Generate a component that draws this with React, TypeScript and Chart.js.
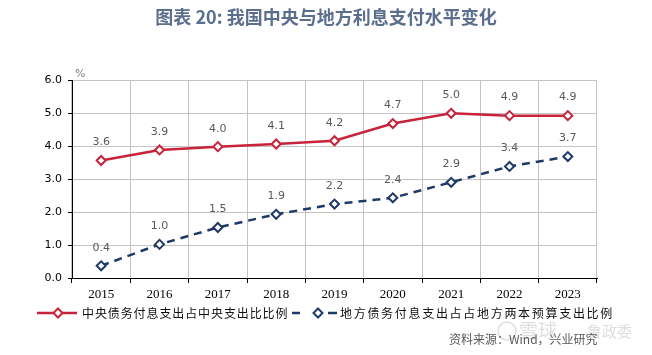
import { useEffect, useRef } from 'react';
import { Chart, registerables } from 'chart.js';

Chart.register(...registerables);

const years = ['2015', '2016', '2017', '2018', '2019', '2020', '2021', '2022', '2023'];
const centralRatio = [3.56, 3.88, 3.98, 4.06, 4.16, 4.68, 4.99, 4.92, 4.92];
const localRatio = [0.37, 1.02, 1.53, 1.93, 2.24, 2.43, 2.9, 3.38, 3.68];
const centralName = '中央债务付息支出占中央支出比比例';
const localName = '地方债务付息支出占占地方两本预算支出比例';
const titleText = '图表 20: 我国中央与地方利息支付水平变化';
const sourceText = '资料来源：Wind，兴业研究';

const RED = '#c8233a';
const NAVY = '#1f3a66';

const decorPlugin = {
  id: 'decor',
  afterDatasetsDraw(chart: any) {
    const ctx = chart.ctx;
    ctx.save();
    ctx.font = '11px "DejaVu Sans"';
    ctx.fillStyle = '#595959';
    ctx.textAlign = 'center';
    ctx.textBaseline = 'middle';
    chart.data.datasets.forEach((ds: any, i: number) => {
      const meta = chart.getDatasetMeta(i);
      meta.data.forEach((pt: any, j: number) => {
        ctx.fillText((ds.data[j] as number).toFixed(1), pt.x, pt.y - 18);
      });
    });
    ctx.restore();
  },
  afterDraw(chart: any) {
    const ctx = chart.ctx;
    const area = chart.chartArea;
    ctx.save();
    // title
    ctx.font = 'bold 18px "Noto Sans CJK SC"';
    ctx.fillStyle = '#5b6e8e';
    ctx.textAlign = 'center';
    ctx.textBaseline = 'middle';
    ctx.fillText(titleText, 326, 17);
    // % unit
    ctx.font = '11px "DejaVu Sans"';
    ctx.fillStyle = '#808080';
    ctx.textAlign = 'left';
    ctx.fillText('%', area.left + 3, area.top - 6);
    // legend
    const ly = 313;
    const drawDiamond = (x: number, color: string) => {
      ctx.beginPath();
      ctx.moveTo(x, ly - 4.5);
      ctx.lineTo(x + 4.5, ly);
      ctx.lineTo(x, ly + 4.5);
      ctx.lineTo(x - 4.5, ly);
      ctx.closePath();
      ctx.fillStyle = '#fff';
      ctx.fill();
      ctx.lineWidth = 2;
      ctx.strokeStyle = color;
      ctx.setLineDash([]);
      ctx.stroke();
    };
    ctx.lineWidth = 2.5;
    ctx.strokeStyle = RED;
    ctx.beginPath();
    ctx.moveTo(37, ly);
    ctx.lineTo(77, ly);
    ctx.stroke();
    drawDiamond(58, RED);
    ctx.strokeStyle = NAVY;
    ctx.lineWidth = 2.5;
    ctx.beginPath();
    ctx.moveTo(292, ly);
    ctx.lineTo(300, ly);
    ctx.moveTo(328, ly);
    ctx.lineTo(337, ly);
    ctx.stroke();
    drawDiamond(318, NAVY);
    ctx.font = '12px "Noto Sans CJK SC"';
    ctx.fillStyle = '#111';
    ctx.textBaseline = 'middle';
    (ctx as any).letterSpacing = '0.9px';
    ctx.fillText(centralName, 82, ly);
    (ctx as any).letterSpacing = '1.7px';
    ctx.fillText(localName, 340, ly);
    (ctx as any).letterSpacing = '0px';
    // watermark
    ctx.fillStyle = 'rgba(160,160,160,0.35)';
    ctx.strokeStyle = 'rgba(160,160,160,0.35)';
    ctx.lineWidth = 1.5;
    ctx.beginPath();
    ctx.arc(507, 331, 9, 0, Math.PI * 2);
    ctx.stroke();
    ctx.font = '19px "Noto Sans CJK SC"';
    ctx.fillText('雪球', 519, 331);
    ctx.font = '15px "Noto Sans CJK SC"';
    ctx.fillText('鲁政委', 587, 331);
    // source
    ctx.font = '12px "Noto Sans CJK SC"';
    ctx.fillStyle = '#595959';
    ctx.fillText(sourceText, 449, 339);
    ctx.restore();
  },
};

export default function App() {
  const ref = useRef<HTMLCanvasElement>(null);
  useEffect(() => {
    if (!ref.current) return;
    const chart = new Chart(ref.current, {
      type: 'line',
      data: {
        labels: years,
        datasets: [
          {
            label: centralName,
            data: centralRatio,
            borderColor: RED,
            borderWidth: 2.5,
            pointStyle: 'rectRot',
            pointRadius: 4.5,
            pointBorderWidth: 2,
            pointBackgroundColor: '#fff',
            pointBorderColor: RED,
            tension: 0,
          },
          {
            label: localName,
            data: localRatio,
            borderColor: NAVY,
            borderWidth: 2.5,
            borderDash: [8, 6],
            pointStyle: 'rectRot',
            pointRadius: 4.5,
            pointBorderWidth: 2,
            pointBackgroundColor: '#fff',
            pointBorderColor: NAVY,
            tension: 0,
          },
        ],
      },
      options: {
        animation: false,
        responsive: false,
        maintainAspectRatio: false,
        layout: { padding: { left: 0, right: 55, top: 80, bottom: 0 } },
        plugins: {
          legend: { display: false },
          title: { display: false },
          tooltip: { enabled: false },
        },
        scales: {
          x: {
            type: 'category',
            offset: true,
            grid: { offset: true, color: '#c4c4c4', tickColor: '#000', tickLength: 5 },
            border: { color: '#000', width: 1 },
            ticks: { font: { family: 'Liberation Serif', size: 13 }, color: '#000', padding: 4, maxRotation: 0 },
            afterFit: (s: any) => {
              s.height = 77;
            },
          },
          y: {
            min: 0,
            max: 6,
            ticks: {
              stepSize: 1,
              callback: (v: any) => Number(v).toFixed(1),
              font: { family: 'DejaVu Sans', size: 11 },
              color: '#000',
              padding: 6,
            },
            grid: { color: '#c4c4c4', tickColor: '#000', tickLength: 4 },
            border: { color: '#000', width: 1 },
            afterFit: (s: any) => {
              s.width = 72;
            },
          },
        },
      },
      plugins: [decorPlugin],
    });
    return () => chart.destroy();
  }, []);
  return (
    <div style={{ position: 'absolute', left: 0, top: 0, width: 652, height: 355, background: '#fff' }}>
      <canvas ref={ref} width={652} height={355} style={{ width: 652, height: 355, display: 'block' }} />
    </div>
  );
}
